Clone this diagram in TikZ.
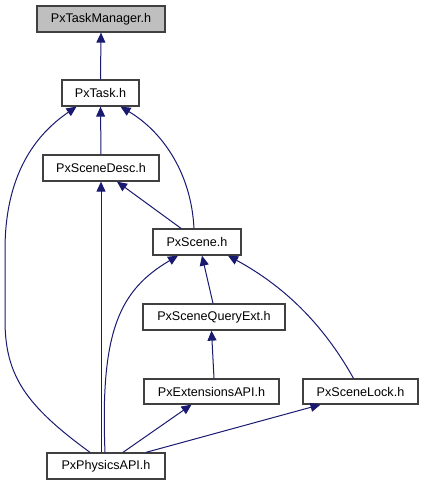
\documentclass[tikz,border=0pt]{standalone}
\usepackage{fontspec}
\setmainfont{Liberation Sans}
\usetikzlibrary{arrows.meta}
\definecolor{edgeblue}{HTML}{191970}
\definecolor{boxline}{HTML}{404040}
\tikzset{
  box/.style={draw=boxline, line width=1.3pt, fill=white, inner sep=0pt, minimum height=26pt, font=\fontsize{12.6}{14}\selectfont},
  dep/.style={draw=edgeblue, line width=1pt, -{Triangle[length=10pt,width=9pt]}}
}
\begin{document}
\begin{tikzpicture}[x=1pt,y=-1pt]
\useasboundingbox (0,0) rectangle (424,485);
\node[box, fill=black!25, minimum width=128pt] (tm) at (101,19) {PxTaskManager.h};
\node[box, minimum width=77pt] (task) at (100.5,93) {PxTask.h};
\node[box, minimum width=116pt] (desc) at (101,168) {PxSceneDesc.h};
\node[box, minimum width=88pt] (scene) at (197,242) {PxScene.h};
\node[box, minimum width=142pt] (sqe) at (214,317) {PxSceneQueryExt.h};
\node[box, minimum width=135pt, minimum height=25pt] (ext) at (211.5,391.5) {PxExtensionsAPI.h};
\node[box, minimum width=115pt, minimum height=25pt] (lock) at (360.5,391.5) {PxSceneLock.h};
\node[box, minimum width=118pt] (phys) at (106,466) {PxPhysicsAPI.h};

\draw[dep] (task.north) -- (tm.south);
\draw[dep] (desc.north) -- (task.south);
\draw[dep] ([xshift=-3pt]scene.north) .. controls (191,170) and (160,130) .. ([xshift=20pt]task.south);
\draw[dep] ([xshift=-16pt]scene.north) -- ([xshift=16pt]desc.south);
\draw[dep] ([xshift=-16pt]phys.north) .. controls (25,405) and (5,375) .. (5,320) -- (5,250) .. controls (5,175) and (35,135) .. ([xshift=-24pt]task.south);
\draw[dep] (phys.north -| desc.south) -- (desc.south);
\draw[dep] ([xshift=-1pt]phys.north) .. controls (100,330) and (120,290) .. ([xshift=-19pt]scene.south);
\draw[dep] ([xshift=-1pt]sqe.north) -- ([xshift=5pt]scene.south);
\draw[dep] (ext.north -| sqe.south) -- (sqe.south -| ext.north);
\draw[dep] ([xshift=-7pt]lock.north) .. controls (322,322) and (282,285) .. ([xshift=31pt]scene.south);
\draw[dep] ([xshift=17pt]phys.north) -- ([xshift=-20pt]ext.south);
\draw[dep] ([xshift=40pt]phys.north) -- ([xshift=-40pt]lock.south);
\end{tikzpicture}
\end{document}
